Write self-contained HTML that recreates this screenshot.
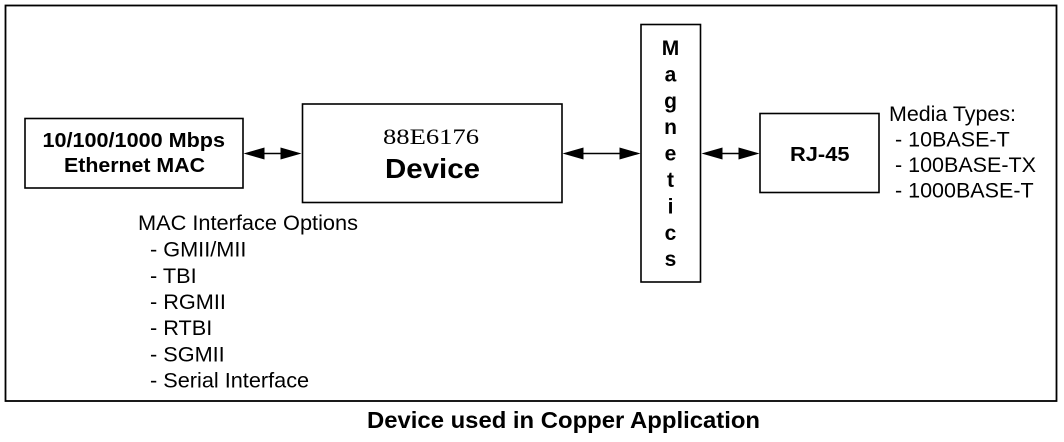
<!DOCTYPE html>
<html>
<head>
<meta charset="utf-8">
<style>
  html, body { margin: 0; padding: 0; background: #fff; }
  body { width: 1064px; height: 442px; overflow: hidden; }
  svg { display: block; }
  .sans { font-family: "Liberation Sans", Arial, sans-serif; }
  .serif { font-family: "Liberation Serif", "Times New Roman", serif; }
</style>
</head>
<body>
<svg width="1064" height="442" viewBox="0 0 1064 442" xmlns="http://www.w3.org/2000/svg">
  <rect x="0" y="0" width="1064" height="442" fill="#fff"/>
  <!-- outer frame -->
  <rect x="5.5" y="5.5" width="1051" height="395.5" fill="none" stroke="#000" stroke-width="1.8"/>

  <!-- MAC box -->
  <rect x="25" y="118.5" width="218" height="69.5" fill="#fff" stroke="#000" stroke-width="1.6"/>
  <text class="sans" x="42.5" y="147" font-size="20" font-weight="bold" textLength="182.5" lengthAdjust="spacingAndGlyphs">10/100/1000 Mbps</text>
  <text class="sans" x="64" y="172" font-size="20" font-weight="bold" textLength="141" lengthAdjust="spacingAndGlyphs">Ethernet MAC</text>

  <!-- Device box -->
  <rect x="302.5" y="104" width="259.5" height="98.5" fill="#fff" stroke="#000" stroke-width="1.6"/>
  <text class="serif" x="383" y="144" font-size="22" textLength="96" lengthAdjust="spacingAndGlyphs">88E6176</text>
  <text class="sans" x="385" y="178" font-size="28" font-weight="bold" textLength="95" lengthAdjust="spacingAndGlyphs">Device</text>

  <!-- Magnetics box -->
  <rect x="641" y="24.5" width="59.5" height="257.5" fill="#fff" stroke="#000" stroke-width="1.6"/>
  <g class="sans" font-size="21" font-weight="bold" text-anchor="middle">
    <text x="670.5" y="55">M</text>
    <text x="670.5" y="81.4">a</text>
    <text x="670.5" y="107.8">g</text>
    <text x="670.5" y="134.2">n</text>
    <text x="670.5" y="160.6">e</text>
    <text x="670.5" y="187">t</text>
    <text x="670.5" y="213.4">i</text>
    <text x="670.5" y="239.8">c</text>
    <text x="670.5" y="266">s</text>
  </g>

  <!-- RJ-45 box -->
  <rect x="760" y="113.5" width="119" height="79" fill="#fff" stroke="#000" stroke-width="1.6"/>
  <text class="sans" x="790" y="161" font-size="20" font-weight="bold" textLength="59.5" lengthAdjust="spacingAndGlyphs">RJ-45</text>

  <!-- arrows -->
  <g stroke="#000" stroke-width="1.6" fill="#000">
    <line x1="262" y1="153.5" x2="284" y2="153.5"/>
    <polygon points="243.5,153.5 264.5,147.5 264.5,159.5" stroke="none"/>
    <polygon points="301.5,153.5 280.5,147.5 280.5,159.5" stroke="none"/>

    <line x1="580" y1="153.5" x2="622" y2="153.5"/>
    <polygon points="562.5,153.5 583.5,147.5 583.5,159.5" stroke="none"/>
    <polygon points="640.5,153.5 619.5,147.5 619.5,159.5" stroke="none"/>

    <line x1="719" y1="153.5" x2="742" y2="153.5"/>
    <polygon points="701.5,153.5 722.5,147.5 722.5,159.5" stroke="none"/>
    <polygon points="759.5,153.5 738.5,147.5 738.5,159.5" stroke="none"/>
  </g>

  <!-- Media types -->
  <g class="sans" font-size="21.5" fill="#000">
    <text x="889" y="121" textLength="127" lengthAdjust="spacingAndGlyphs">Media Types:</text>
    <text x="895" y="146.5">- 10BASE-T</text>
    <text x="895" y="172">- 100BASE-TX</text>
    <text x="895" y="197.5">- 1000BASE-T</text>
  </g>

  <!-- MAC interface options -->
  <g class="sans" font-size="21.7" fill="#000">
    <text x="138" y="230" textLength="220" lengthAdjust="spacingAndGlyphs">MAC Interface Options</text>
    <text x="150" y="256.7">- GMII/MII</text>
    <text x="150" y="283">- TBI</text>
    <text x="150" y="309">- RGMII</text>
    <text x="150" y="335">- RTBI</text>
    <text x="150" y="361.7">- SGMII</text>
    <text x="150" y="387.7">- Serial Interface</text>
  </g>

  <!-- caption -->
  <text class="sans" x="367" y="428" font-size="23.5" font-weight="bold" textLength="393" lengthAdjust="spacingAndGlyphs">Device used in Copper Application</text>
</svg>
</body>
</html>
